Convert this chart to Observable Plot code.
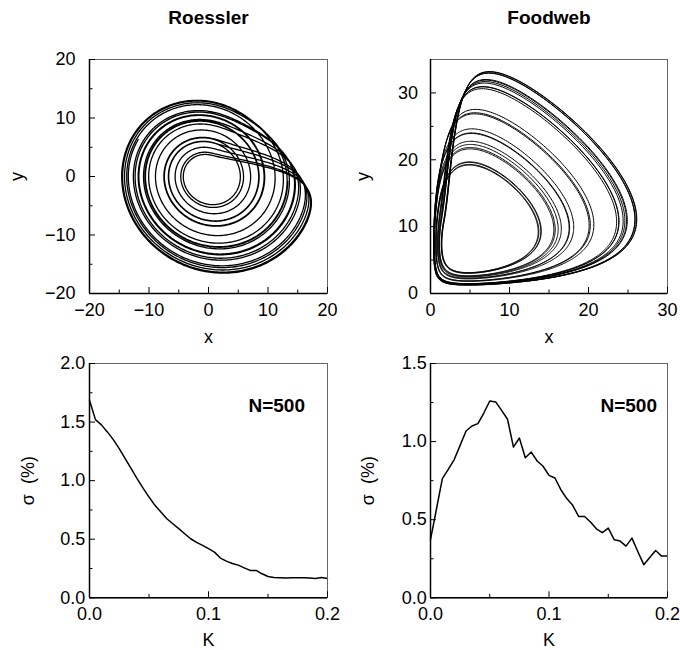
<!DOCTYPE html>
<html>
<head>
<meta charset="utf-8">
<script src="https://cdn.jsdelivr.net/npm/d3@7"></script>
<script src="https://cdn.jsdelivr.net/npm/@observablehq/plot@0.6"></script>
<style>
  body { margin: 0; background: #fff; }
  #fig { position: relative; width: 680px; height: 650px; }
  #fig > svg { position: absolute; }
</style>
</head>
<body>
<div id="fig"></div>
<script>
// ---- phase-spread data: coupling K vs. sigma (%) for N = 500 oscillators ----
const couplingK = [0, 0.005, 0.01, 0.015, 0.02, 0.025, 0.03, 0.035, 0.04, 0.045,
  0.05, 0.055, 0.06, 0.065, 0.07, 0.075, 0.08, 0.085, 0.09, 0.095,
  0.1, 0.105, 0.11, 0.115, 0.12, 0.125, 0.13, 0.135, 0.14, 0.145,
  0.15, 0.155, 0.16, 0.165, 0.17, 0.175, 0.18, 0.185, 0.19, 0.195, 0.2];
const sigmaRoessler = [1.687, 1.521, 1.476, 1.416, 1.350, 1.273, 1.188, 1.103, 1.017, 0.937,
  0.860, 0.789, 0.732, 0.675, 0.632, 0.590, 0.547, 0.504, 0.473, 0.447,
  0.419, 0.390, 0.339, 0.313, 0.293, 0.279, 0.256, 0.234, 0.234, 0.205,
  0.182, 0.174, 0.171, 0.168, 0.171, 0.171, 0.171, 0.168, 0.165, 0.174, 0.165];
const sigmaFoodweb = [0.372, 0.567, 0.763, 0.822, 0.885, 0.976, 1.068, 1.100, 1.115, 1.183,
  1.260, 1.254, 1.200, 1.143, 0.965, 1.023, 0.897, 0.933, 0.876, 0.842,
  0.784, 0.767, 0.692, 0.635, 0.592, 0.521, 0.521, 0.485, 0.442, 0.417,
  0.446, 0.372, 0.363, 0.331, 0.382, 0.295, 0.212, 0.258, 0.303, 0.267, 0.267];

// ---- model parameters for the phase portraits ----
const roesslerParams = [1.0, 0.15, 0.2, 10];                             // omega, a, b, c
const roesslerStart = [1, 1, 0];                                          // x, y, z
const roesslerTimes = [300, 125];                                         // transient, recorded
const foodwebParams = [1, 0.6, 15, 0.138889, 0.694444, 0.0208333, 0.00432]; // a, b, c, alpha1, alpha2, k, z*
const foodwebStart = [7.2, 7.2, 0.0072];
const foodwebTimes = [300, 230];

// ---- axis ticks ----
const roesslerTicks = [-20, -10, 0, 10, 20];
const roesslerMinor = [-15, -5, 5, 15];
const foodwebXTicks = [0, 10, 20, 30];
const foodwebXMinor = [5, 15, 25];
const foodwebYTicks = [0, 10, 20, 30];
const foodwebYMinor = [5, 15, 25];
const kTicks = [0, 0.1, 0.2];
const kMinor = [0.05, 0.15];
const sigmaTicksR = [0, 0.5, 1.0, 1.5, 2.0];
const sigmaMinorR = [0.25, 0.75, 1.25, 1.75];
const sigmaTicksF = [0, 0.5, 1.0, 1.5];
const sigmaMinorF = [0.25, 0.75, 1.25];

// fourth-order Runge-Kutta trajectory, keeping every `keep`-th step after the transient
function trajectory(deriv, start, [transient, recorded], dt = 0.01, keep = 2) {
  let s = start.slice();
  const out = [];
  const n0 = Math.round(transient / dt), n1 = Math.round(recorded / dt);
  const add = (a, b, h) => a.map((v, i) => v + h * b[i]);
  for (let i = 0; i < n0 + n1; i++) {
    const k1 = deriv(s);
    const k2 = deriv(add(s, k1, dt / 2));
    const k3 = deriv(add(s, k2, dt / 2));
    const k4 = deriv(add(s, k3, dt));
    s = s.map((v, j) => v + dt / 6 * (k1[j] + 2 * k2[j] + 2 * k3[j] + k4[j]));
    if (i >= n0 && (i - n0) % keep === 0) out.push({x: s[0], y: s[1]});
  }
  return out;
}

// Roessler oscillator
const [om, ra, rb, rc] = roesslerParams;
const roessler = trajectory(([x, y, z]) => [-om * y - z, om * x + ra * y, rb + z * (x - rc)],
  roesslerStart, roesslerTimes);

// three-level food chain: vegetation x, herbivores y, predators z
const [fa, fb, fc, al1, al2, fk, zs] = foodwebParams;
const foodweb = trajectory(([x, y, z]) => {
  const f1 = x * y / (1 + fk * x), f2 = y * z;
  return [fa * x - al1 * f1, -fb * y + al1 * f1 - al2 * f2, -fc * (z - zs) + al2 * f2];
}, foodwebStart, foodwebTimes, 0.005, 3);

const sigmaRows = couplingK.map((k, i) => ({k, r: sigmaRoessler[i], f: sigmaFoodweb[i]}));

// ---- one framed panel ----
const FONT = `"Liberation Sans", Arial, Helvetica, sans-serif`;
const fig = document.getElementById("fig");

function panel(o) {
  const chart = Plot.plot({
    width: o.width, height: o.height,
    marginTop: o.margin[0], marginRight: o.margin[1], marginBottom: o.margin[2], marginLeft: o.margin[3],
    style: {fontFamily: FONT, fontSize: "18px", color: "#000", background: "transparent", overflow: "visible"},
    x: {domain: o.xDomain, label: null},
    y: {domain: o.yDomain, label: null},
    marks: [
      ...o.marks,
      Plot.frame({stroke: "#666", strokeWidth: 1}),
      Plot.ruleX([o.xDomain[0]], {stroke: "#000", strokeWidth: 1.5}),
      Plot.ruleY([o.yDomain[0]], {stroke: "#000", strokeWidth: 1.5}),
      Plot.axisX(o.xMinor, {tickSize: -3.5, tickFormat: () => "", stroke: "#000"}),
      Plot.axisX(o.xTicks, {tickSize: -6, tickPadding: 15.5, tickFormat: o.xFmt, stroke: "#000", fill: "#000"}),
      Plot.axisY(o.yMinor, {tickSize: -3.5, tickFormat: () => "", stroke: "#000"}),
      Plot.axisY(o.yTicks, {tickSize: -6, tickPadding: o.yPad, tickFormat: o.yFmt, stroke: "#000", fill: "#000"}),
      Plot.text([o.yLabel], {text: d => d, frameAnchor: "left", dx: o.yLabelDx, rotate: -90,
        textAnchor: "middle", lineAnchor: "bottom", fill: "#000"}),
      Plot.text([o.xLabel], {text: d => d, frameAnchor: "bottom", dy: o.xLabelDy,
        textAnchor: "middle", lineAnchor: "bottom", fill: "#000"}),
      ...(o.title ? [Plot.text([o.title], {text: d => d, frameAnchor: "top", dy: -36,
        lineAnchor: "bottom", fontWeight: "bold", fontSize: 19, fill: "#000"})] : []),
      ...(o.note ? [Plot.text([o.note], {text: d => d, frameAnchor: "top-right", dx: o.noteDx, dy: 48.5,
        textAnchor: "end", lineAnchor: "bottom", fontWeight: "bold", fontSize: 19, fill: "#000"})] : [])
    ]
  });
  chart.style.left = o.left + "px";
  chart.style.top = o.top + "px";
  fig.appendChild(chart);
}

const intFmt = d3.format("d");
const oneDec = d3.format(".1f");

panel({
  left: 0, top: 0, width: 340, height: 345, margin: [59, 13, 52, 89],
  xDomain: [-20, 20], yDomain: [-20, 20],
  xTicks: roesslerTicks, xMinor: roesslerMinor, yTicks: roesslerTicks, yMinor: roesslerMinor,
  xFmt: intFmt, yFmt: intFmt, yPad: 20,
  xLabel: "x", yLabel: "y", xLabelDy: 49, yLabelDx: -67, title: "Roessler",
  marks: [Plot.line(roessler, {x: "x", y: "y", stroke: "#000", strokeWidth: 1.3, clip: true})]
});

panel({
  left: 340, top: 0, width: 340, height: 345, margin: [59, 13, 52, 90],
  xDomain: [0, 30], yDomain: [0, 35],
  xTicks: foodwebXTicks, xMinor: foodwebXMinor, yTicks: foodwebYTicks, yMinor: foodwebYMinor,
  xFmt: intFmt, yFmt: intFmt, yPad: 18.5,
  xLabel: "x", yLabel: "y", xLabelDy: 49, yLabelDx: -62, title: "Foodweb",
  marks: [Plot.line(foodweb, {x: "x", y: "y", stroke: "#000", strokeWidth: 1, clip: true})]
});

panel({
  left: 0, top: 345, width: 340, height: 305, margin: [18, 13, 52.7, 89],
  xDomain: [0, 0.2], yDomain: [0, 2.0],
  xTicks: kTicks, xMinor: kMinor, yTicks: sigmaTicksR, yMinor: sigmaMinorR,
  xFmt: oneDec, yFmt: oneDec, yPad: 10.3,
  xLabel: "K", yLabel: "σ\u00a0\u00a0(%)", xLabelDy: 47.7, yLabelDx: -56,
  note: "N=500", noteDx: -22.5,
  marks: [Plot.line(sigmaRows, {x: "k", y: "r", stroke: "#000", strokeWidth: 1.5})]
});

panel({
  left: 340, top: 345, width: 340, height: 305, margin: [18, 13, 52.7, 90],
  xDomain: [0, 0.2], yDomain: [0, 1.5],
  xTicks: kTicks, xMinor: kMinor, yTicks: sigmaTicksF, yMinor: sigmaMinorF,
  xFmt: oneDec, yFmt: oneDec, yPad: 9.7,
  xLabel: "K", yLabel: "σ\u00a0\u00a0(%)", xLabelDy: 47.7, yLabelDx: -57,
  note: "N=500", noteDx: -10.5,
  marks: [Plot.line(sigmaRows, {x: "k", y: "f", stroke: "#000", strokeWidth: 1.5})]
});
</script>
</body>
</html>
